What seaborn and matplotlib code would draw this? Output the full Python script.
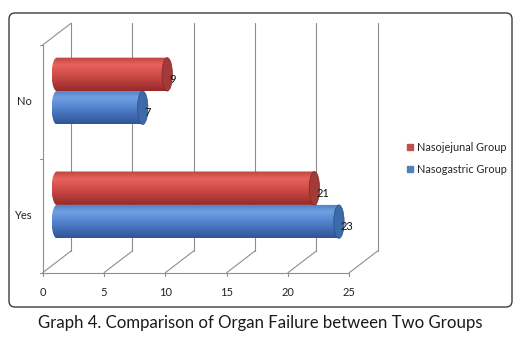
import numpy as np
import pandas as pd
import matplotlib
matplotlib.use("Agg")
import matplotlib.pyplot as plt
import seaborn as sns
from matplotlib.patches import Polygon, Ellipse, FancyBboxPatch
from matplotlib.lines import Line2D
from matplotlib.colors import to_rgba

# ---------------- data ----------------
categories = ["No", "Yes"]
groups = ["Nasojejunal Group", "Nasogastric Group"]
nasojejunal = [9, 21]
nasogastric = [7, 23]
x_ticks = [0, 5, 10, 15, 20, 25]
caption = "Graph 4. Comparison of Organ Failure between Two Groups"

df = pd.DataFrame({
    "category": categories + categories,
    "group": [groups[0]] * len(categories) + [groups[1]] * len(categories),
    "value": nasojejunal + nasogastric,
})

sns.set_style("white")
plt.rcParams["font.family"] = ["Lato", "DejaVu Sans"]

W, H, DPI = 530, 337, 100
fig = plt.figure(figsize=(W / DPI, H / DPI), dpi=DPI)
fig.patch.set_facecolor("white")

# outer rounded frame
frame = FancyBboxPatch((9 / DPI, (H - 307) / DPI), 503 / DPI, 294 / DPI,
                       boxstyle="round,pad=0,rounding_size=0.06",
                       transform=fig.dpi_scale_trans, fc="none",
                       ec="#3c3c3c", lw=1.0, zorder=-1)
fig.patches.append(frame)

# axes = middle depth plane of the 3-D box
PX_X = 306.6 / 25.0      # pixels per x unit
PX_Y = 227.7 / 2.0       # pixels per category
ax = fig.add_axes([56.85 / W, (H - 261.85) / H, 306.6 / W, 227.7 / H])
ax.set_facecolor("none")

red, blue = "#C0504D", "#4F81BD"
palette = {groups[0]: red, groups[1]: blue}
sns.barplot(data=df, x="value", y="category", hue="group", order=categories,
            hue_order=groups, palette=palette, width=0.587, errorbar=None,
            legend=False, ax=ax, orient="h", saturation=1)

DX, DY = 14.15, 10.85
dxu, dyu = DX / PX_X, DY / PX_Y
y_top, y_bot = -0.5, 1.5
gc, glw = "#8e8e8e", 0.8

# back wall gridlines
for v in x_ticks:
    ax.plot([v + dxu, v + dxu], [y_top - dyu, y_bot - dyu], color=gc, lw=glw,
            clip_on=False, zorder=0.5)
    # floor diagonals
    ax.plot([v - dxu, v + dxu], [y_bot + dyu, y_bot - dyu], color=gc, lw=glw,
            clip_on=False, zorder=0.5)
    # x ticks
    ax.plot([v - dxu, v - dxu], [y_bot + dyu, y_bot + dyu + 3 / PX_Y],
            color=gc, lw=glw, clip_on=False, zorder=0.5)
    ax.text(v - dxu, y_bot + dyu + 19.6 / PX_Y, str(v), ha="center",
            va="center", fontsize=8, color="#222222")

# front axis lines
ax.plot([-dxu, -dxu], [y_top + dyu, y_bot + dyu], color=gc, lw=glw, clip_on=False, zorder=0.5)
ax.plot([-dxu, 25 - dxu], [y_bot + dyu, y_bot + dyu], color=gc, lw=glw, clip_on=False, zorder=0.5)
ax.plot([-dxu, dxu], [y_top + dyu, y_top - dyu], color=gc, lw=glw, clip_on=False, zorder=0.5)
for yt in [-0.5, 0.5, 1.5]:
    ax.plot([-dxu - 3 / PX_X, -dxu], [yt + dyu, yt + dyu], color=gc, lw=glw,
            clip_on=False, zorder=0.5)
for i, c in enumerate(categories):
    ax.text(-dxu - 10.7 / PX_X, i + dyu, c, ha="right", va="center",
            fontsize=8, color="#222222")

# cylinders built on seaborn's bars
grad_stops = np.array([0.0, 0.22, 0.55, 1.0])
grad_cols = {
    to_rgba(red)[:3]: np.array([[190, 68, 64], [232, 98, 94], [205, 74, 70], [150, 42, 42]]) / 255,
    to_rgba(blue)[:3]: np.array([[82, 126, 196], [112, 160, 228], [80, 128, 202], [48, 84, 150]]) / 255,
}
cap_cols = {to_rgba(red)[:3]: ("#a23a38", "#7e2a28"),
            to_rgba(blue)[:3]: ("#3d6aa8", "#2c5088")}
a = 10.4 / PX_X / 2
tt = np.linspace(0, 1, 64)
for p in list(ax.patches):
    x0, y0, w, h = p.get_x(), p.get_y(), p.get_width(), p.get_height()
    if h < 0:
        y0, h = y0 + h, -h
    key = tuple(round(c, 6) for c in p.get_facecolor()[:3])
    key = min(grad_cols, key=lambda k: sum(abs(k[i] - key[i]) for i in range(3)))
    p.set_alpha(0)
    stops = grad_cols[key]
    grad = np.stack([np.interp(tt, grad_stops, stops[:, j]) for j in range(3)], axis=1)
    grad = np.repeat(grad[:, None, :], 2, axis=1)
    yc = y0 + h / 2
    phi = np.linspace(0, np.pi, 40)
    verts = [(x0 + w, y0), (x0 + w, y0 + h)]
    verts += list(zip(x0 - a * np.sin(phi), yc + (h / 2) * np.cos(phi)))
    clip = Polygon(verts, closed=True, fc="none", ec="none", transform=ax.transData)
    ax.add_patch(clip)
    im = ax.imshow(grad, extent=(x0 - a, x0 + w, y0 + h, y0), origin="upper",
                   aspect="auto", interpolation="bilinear", zorder=2)
    im.set_clip_path(clip)
    im.set_clip_box(fig.bbox)
    fc, ec = cap_cols[key]
    ax.add_patch(Ellipse((x0 + w, yc), 2 * a, h, fc=fc, ec=ec, lw=0.5,
                         zorder=3, clip_on=False))

for cont in ax.containers:
    anns = ax.bar_label(cont, padding=1.4, fontsize=8, color="#111111", zorder=4)
    for an in anns:
        an.xyann = (1.4, -3.6)

ax.set_xlim(0, 25)
ax.set_ylim(1.5, -0.5)
ax.axis("off")

# legend
handles = [Line2D([], [], marker="s", ls="", color=palette[g], markersize=4.2) for g in groups]
fig.legend(handles=handles, labels=groups, loc="upper left",
           bbox_to_anchor=(406 / W, (H - 142) / H), frameon=False, fontsize=7.8,
           handlelength=0.7, handletextpad=0.35, labelspacing=1.0,
           borderaxespad=0, borderpad=0)

fig.text(260 / W, (H - 323.3) / H, caption, ha="center", va="center",
         fontsize=12.1, color="#1a1a1a")

fig.savefig("out.png", dpi=DPI)
